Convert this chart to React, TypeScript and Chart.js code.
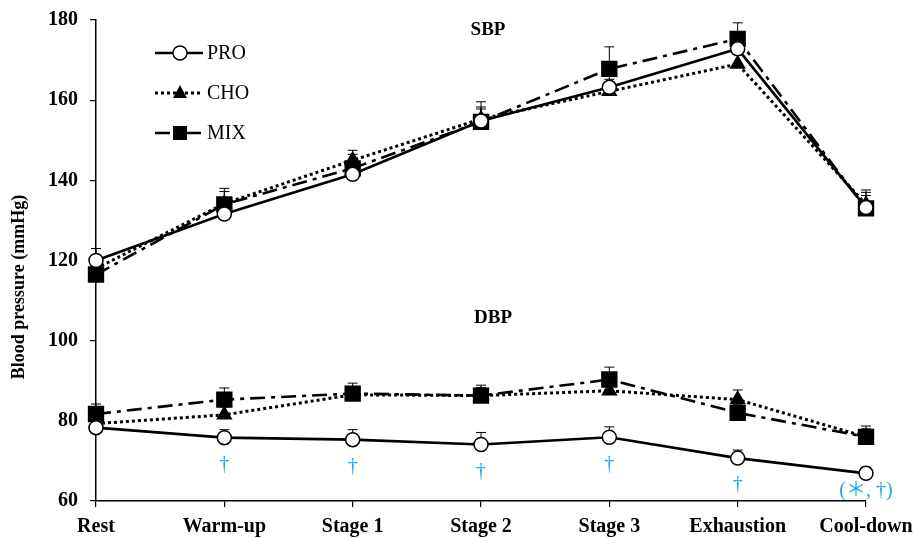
import React, { useEffect, useRef } from "react";
import { Chart, registerables } from "chart.js";

Chart.register(...registerables);

const categories = ["Rest", "Warm-up", "Stage 1", "Stage 2", "Stage 3", "Exhaustion", "Cool-down"];
const yTicks = [60, 80, 100, 120, 140, 160, 180];
const yTitle = "Blood pressure (mmHg)";

const sbpPro = [120, 131.6, 141.5, 154.8, 163.2, 172.8, 133.2];
const sbpCho = [118, 134.2, 145, 155.3, 162.2, 169, 134];
const sbpMix = [116.5, 134, 143, 154.6, 167.8, 175.3, 133];
const sbpProErr = [3, 2.5, 2.5, 3, 3, 3, 3];
const sbpChoErr = [3, 3, 2.5, 3, 3, 2.5, 3];
const sbpMixErr = [3, 4, 3.5, 5, 5.5, 4, 4.6];

const dbpPro = [78.3, 75.8, 75.3, 74.1, 75.9, 70.7, 66.9];
const dbpCho = [79.3, 81.5, 86.5, 86.3, 87.5, 85.3, 76];
const dbpMix = [81.7, 85.3, 86.8, 86.3, 90.3, 82, 76];
const dbpProErr = [1.5, 2, 2.5, 3, 2.6, 2, 1.5];
const dbpChoErr = [2, 2, 2, 2, 2, 2.4, 2];
const dbpMixErr = [2.5, 2.9, 2.6, 2.6, 3.1, 2, 2.7];

const sigMarks = ["", "†", "†", "†", "†", "†", "(＊, †)"];
const legendLabels = ["PRO", "CHO", "MIX"];

const FONT = "'Liberation Serif', 'Times New Roman', serif";
const SIG_FONT = "'Liberation Serif', 'Noto Sans CJK JP', serif";
const SIG_COLOR = "#1ea6e8";

const styles = {
  PRO: { dash: [] as number[], width: 2.6, pointStyle: "circle", radius: 7, bg: "#ffffff" },
  CHO: { dash: [3, 3], width: 3, pointStyle: "triangle", radius: 8, bg: "#000000" },
  MIX: { dash: [15, 6, 4, 6], width: 2.6, pointStyle: "rect", radius: 10.5, bg: "#000000" },
};

function mkDataset(key: "PRO" | "CHO" | "MIX", data: number[], err: number[]) {
  const s = styles[key];
  return {
    label: key,
    data,
    err,
    borderColor: "#000",
    borderWidth: s.width,
    borderDash: s.dash,
    pointStyle: s.pointStyle,
    pointRadius: s.radius,
    pointBackgroundColor: s.bg,
    pointBorderColor: "#000",
    pointBorderWidth: 1.5,
    tension: 0,
    fill: false,
  } as any;
}

const errorBarPlugin = {
  id: "errorBars",
  beforeDatasetsDraw(chart: any) {
    const ctx = chart.ctx;
    const y = chart.scales.y;
    ctx.save();
    ctx.strokeStyle = "#000";
    ctx.lineWidth = 1;
    chart.data.datasets.forEach((ds: any, di: number) => {
      const meta = chart.getDatasetMeta(di);
      meta.data.forEach((pt: any, i: number) => {
        const top = y.getPixelForValue(ds.data[i] + ds.err[i]);
        ctx.beginPath();
        ctx.moveTo(pt.x, pt.y);
        ctx.lineTo(pt.x, top);
        ctx.moveTo(pt.x - 5, top);
        ctx.lineTo(pt.x + 5, top);
        ctx.stroke();
      });
    });
    ctx.restore();
  },
};

const overlayPlugin = {
  id: "overlay",
  afterDraw(chart: any) {
    const ctx = chart.ctx;
    const x = chart.scales.x;
    const area = chart.chartArea;
    ctx.save();
    // y-axis title
    ctx.fillStyle = "#000";
    ctx.font = `bold 18px ${FONT}`;
    ctx.textAlign = "center";
    ctx.textBaseline = "middle";
    ctx.save();
    ctx.translate(19, 287);
    ctx.rotate(-Math.PI / 2);
    ctx.fillText(yTitle, 0, 0);
    ctx.restore();

    // Panel titles
    ctx.font = `bold 19px ${FONT}`;
    ctx.fillText("SBP", x.getPixelForValue(3) + 7, 30);
    ctx.fillText("DBP", x.getPixelForValue(3) + 12, 318);

    // significance marks below PRO DBP
    const proMeta = chart.getDatasetMeta(3);
    ctx.fillStyle = SIG_COLOR;
    ctx.font = `20px ${SIG_FONT}`;
    sigMarks.forEach((m, i) => {
      if (!m) return;
      const pt = proMeta.data[i];
      const yy = Math.min(pt.y + 27, area.bottom - 10);
      ctx.fillText(m, pt.x, yy);
    });

    // Legend
    const keys: ("PRO" | "CHO" | "MIX")[] = ["PRO", "CHO", "MIX"];
    const rowsY = [53, 93, 133];
    keys.forEach((k, i) => {
      const s = styles[k];
      const yy = rowsY[i];
      ctx.strokeStyle = "#000";
      ctx.lineWidth = s.width;
      ctx.setLineDash(s.dash);
      ctx.beginPath();
      ctx.moveTo(155, yy);
      ctx.lineTo(203, yy);
      ctx.stroke();
      ctx.setLineDash([]);
      ctx.lineWidth = 1.5;
      ctx.fillStyle = s.bg;
      ctx.strokeStyle = "#000";
      const cx = 180;
      if (k === "PRO") {
        ctx.beginPath();
        ctx.arc(cx, yy, 7, 0, Math.PI * 2);
        ctx.fill();
        ctx.stroke();
      } else if (k === "CHO") {
        ctx.beginPath();
        ctx.moveTo(cx, yy - 8);
        ctx.lineTo(cx + 7, yy + 5);
        ctx.lineTo(cx - 7, yy + 5);
        ctx.closePath();
        ctx.fill();
      } else {
        ctx.fillRect(cx - 7, yy - 7, 14, 14);
      }
      ctx.fillStyle = "#000";
      ctx.font = `20px ${FONT}`;
      ctx.textAlign = "left";
      ctx.fillText(legendLabels[i], 207, yy + 1);
    });
    ctx.restore();
  },
};

export default function App() {
  const ref = useRef<HTMLCanvasElement>(null);
  useEffect(() => {
    if (!ref.current) return;
    const chart = new Chart(ref.current, {
      type: "line",
      data: {
        labels: categories,
        datasets: [
          mkDataset("PRO", sbpPro, sbpProErr),
          mkDataset("CHO", sbpCho, sbpChoErr),
          mkDataset("MIX", sbpMix, sbpMixErr),
          mkDataset("PRO", dbpPro, dbpProErr),
          mkDataset("CHO", dbpCho, dbpChoErr),
          mkDataset("MIX", dbpMix, dbpMixErr),
        ],
      },
      options: {
        animation: false,
        responsive: false,
        layout: { padding: { left: 0, right: 52, top: 20, bottom: 0 } },
        plugins: { legend: { display: false }, tooltip: { enabled: false } },
        scales: {
          x: {
            type: "category",
            offset: false,
            grid: { display: true, drawOnChartArea: false, drawTicks: true, tickLength: 6, color: "#000", lineWidth: 1.2 },
            border: { display: true, color: "#000", width: 1.5 },
            ticks: { color: "#000", font: { family: FONT, size: 20, weight: "bold" }, padding: 8, maxRotation: 0, autoSkip: false },
            afterFit: (s: any) => { s.height = 37; s.paddingLeft = 0; s.paddingRight = 0; },
          },
          y: {
            min: 60,
            max: 180,
            afterBuildTicks: (s: any) => { s.ticks = yTicks.map((v) => ({ value: v })); },
            grid: { display: true, drawOnChartArea: false, drawTicks: true, tickLength: 6, color: "#000", lineWidth: 1.2 },
            border: { display: true, color: "#000", width: 1.5 },
            ticks: { color: "#000", font: { family: FONT, size: 20, weight: "bold" }, padding: 12 },
            afterFit: (s: any) => { s.width = 96; s.paddingTop = 0; s.paddingBottom = 0; },
          },
        },
      } as any,
      plugins: [errorBarPlugin, overlayPlugin],
    });
    return () => chart.destroy();
  }, []);
  return (
    <div style={{ position: "fixed", left: 0, top: 0, width: 918, height: 538, background: "#fff" }}>
      <canvas ref={ref} width={918} height={538} style={{ width: 918, height: 538, display: "block" }} />
    </div>
  );
}
